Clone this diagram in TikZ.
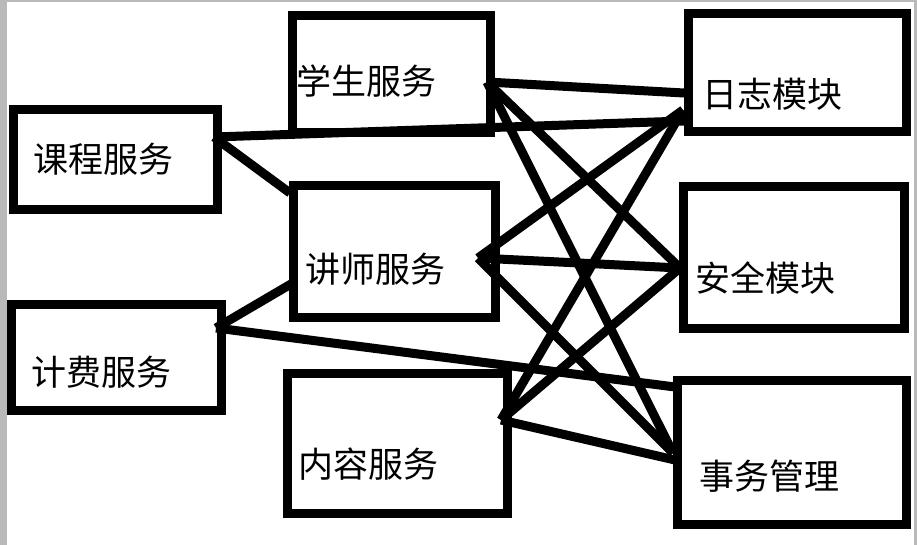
\documentclass[tikz,border=0pt]{standalone}
\usepackage{fontspec}
\newfontfamily\cjk{Noto Sans CJK SC}
\begin{document}
\begin{tikzpicture}[x=1pt,y=-1pt,
  box/.style={draw=black,line width=9pt,rectangle,inner sep=0pt,fill=white},
  lbl/.style={inner sep=0pt,font=\cjk\fontsize{35}{42}\selectfont},
  conn/.style={draw=black,line width=9pt}]
\useasboundingbox (0,0) rectangle (917,545);
\fill[white] (0,0) rectangle (917,545);
\fill[gray!55] (0,0) rectangle (7,545);
\fill[gray!55] (0,0) rectangle (917,2);
\fill[gray!55] (914,0) rectangle (917,545);
% boxes
\node[box,minimum width=204pt,minimum height=100pt] (kc) at (115.5,160) {};
\node[box,minimum width=210pt,minimum height=105.5pt] (jf) at (116.5,357.25) {};
\node[box,minimum width=197.5pt,minimum height=116.8pt] (xs) at (391.25,74.1) {};
\node[box,minimum width=201.5pt,minimum height=131pt] (js) at (394.25,251.5) {};
\node[box,minimum width=219.5pt,minimum height=139.7pt] (nr) at (397.25,443.65) {};
\node[box,minimum width=218pt,minimum height=118pt] (rz) at (797.5,73) {};
\node[box,minimum width=221pt,minimum height=141.5pt] (aq) at (794,257.75) {};
\node[box,minimum width=229pt,minimum height=144pt] (sw) at (792,452) {};
% labels
\node[lbl] (kcL) at (103.5,159.5) {课程服务};
\node[lbl] (jfL) at (101.5,372) {计费服务};
\node[lbl] (xsL) at (366.5,80.8) {学生服务};
\node[lbl] (jsL) at (375,269) {讲师服务};
\node[lbl] (nrL) at (368.5,464) {内容服务};
\node[lbl] (rzL) at (772,94.4) {日志模块};
\node[lbl] (aqL) at (765.5,278.4) {安全模块};
\node[lbl] (swL) at (769,476.5) {事务管理};
% anchor coordinates
\coordinate (kcA) at (214,137);
\coordinate (jfA) at (216,328);
\coordinate (xsA) at (487,82);
\coordinate (jsA) at (478,258);
\coordinate (nrA) at (501,420);
\coordinate (rzA) at (684,93);
\coordinate (rzB) at (683,110);
\coordinate (rzC) at (684,121);
\coordinate (jsT) at (290,193);
\coordinate (jsL) at (291,284);
\coordinate (aqA) at (680,268);
\coordinate (swA) at (673,453);
\coordinate (swB) at (675,387);
\coordinate (swC) at (675,460);
% connectors
\draw[conn] (kcA) -- (rzC);
\draw[conn] (kcA) -- (jsT);
\draw[conn] (jfA) -- (jsL);
\draw[conn] (jfA) -- (swB);
\draw[conn] (xsA) -- (rzA);
\draw[conn] (xsA) -- (aqA);
\draw[conn] (xsA) -- (swA);
\draw[conn] (jsA) -- (rzB);
\draw[conn] (jsA) -- (aqA);
\draw[conn] (jsA) -- (swA);
\draw[conn] (nrA) -- (rzB);
\draw[conn] (nrA) -- (aqA);
\draw[conn] (nrA) -- (swC);
\end{tikzpicture}
\end{document}
